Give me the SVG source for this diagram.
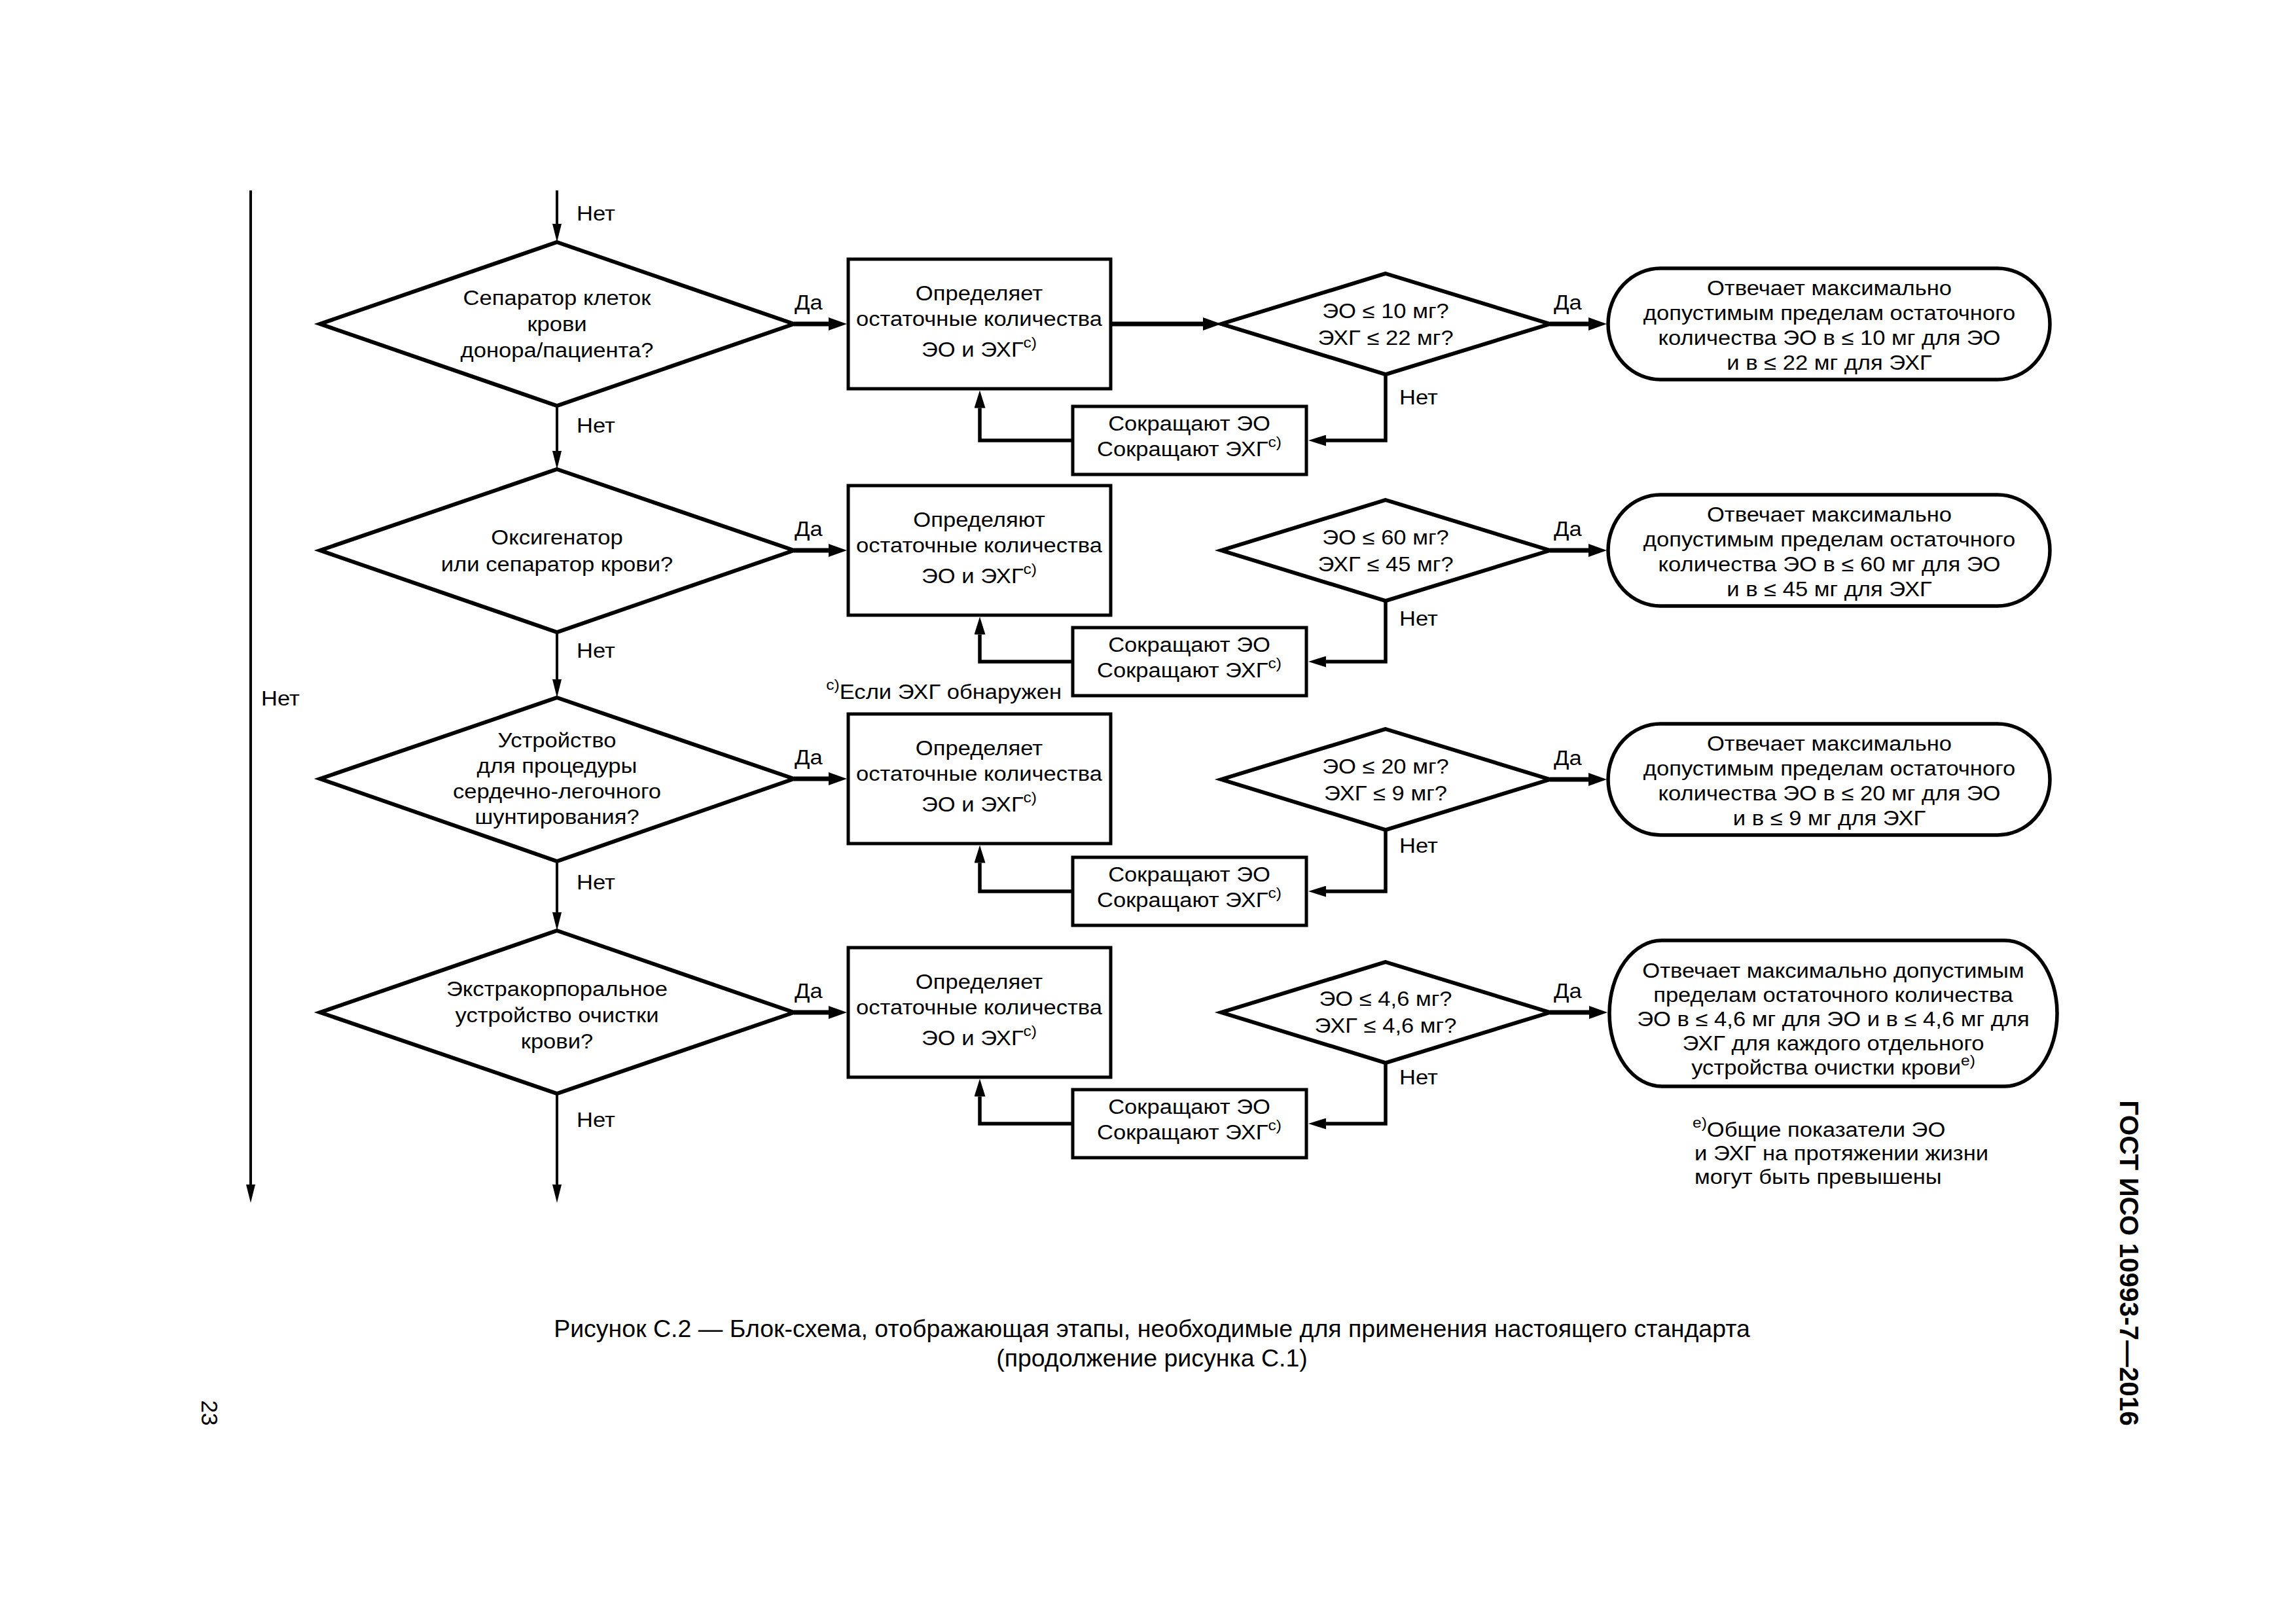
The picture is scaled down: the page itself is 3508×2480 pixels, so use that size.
<svg xmlns="http://www.w3.org/2000/svg" width="3508" height="2480" viewBox="0 0 3508 2480">
<style>
.t{font-family:"Liberation Sans",Arial,sans-serif;font-size:31px;fill:#000}
.c{text-anchor:middle}
.e{text-anchor:end}
.sup{font-size:22px}
.cap{font-family:"Liberation Sans",Arial,sans-serif;font-size:37.5px;fill:#000;text-anchor:middle}
.dia{fill:#fff;stroke:#000;stroke-width:6;stroke-linejoin:miter}
.box{fill:#fff;stroke:#000;stroke-width:5}
.term{fill:#fff;stroke:#000;stroke-width:5.5}
.ln{fill:none;stroke:#000}
.thin{stroke-width:4}
.thick{stroke-width:7}
.mid{stroke-width:5.5}
</style>
<defs>
<marker id="aThin" markerUnits="userSpaceOnUse" markerWidth="28" markerHeight="14" refX="0" refY="7" orient="auto"><path d="M0,0 L28,7 L0,14 z" fill="#000"/></marker>
<marker id="aThick" markerUnits="userSpaceOnUse" markerWidth="28" markerHeight="20" refX="0" refY="10" orient="auto"><path d="M0,0 L28,10 L0,20 z" fill="#000"/></marker>
<marker id="aMid" markerUnits="userSpaceOnUse" markerWidth="27" markerHeight="17" refX="0" refY="8.5" orient="auto"><path d="M0,0 L27,8.5 L0,17 z" fill="#000"/></marker>
</defs>
<rect width="3508" height="2480" fill="#fff"/>

<g id="connectors">
<path class="ln thin" d="M383,291 V1810" marker-end="url(#aThin)"/>
<path class="ln thin" d="M851,291 V342" marker-end="url(#aThin)"/>
<path class="ln thin" d="M851,620 V689" marker-end="url(#aThin)"/>
<path class="ln thin" d="M851,966 V1038" marker-end="url(#aThin)"/>
<path class="ln thin" d="M851,1316 V1394" marker-end="url(#aThin)"/>
<path class="ln thin" d="M851,1671 V1810" marker-end="url(#aThin)"/>

<path class="ln thick" d="M1213,495 H1266" marker-end="url(#aThick)"/>
<path class="ln thick" d="M1213,841 H1266" marker-end="url(#aThick)"/>
<path class="ln thick" d="M1213,1190 H1266" marker-end="url(#aThick)"/>
<path class="ln thick" d="M1213,1547 H1266" marker-end="url(#aThick)"/>

<path class="ln thick" d="M1699,495 H1838" marker-end="url(#aThick)"/>

<path class="ln thick" d="M2368,495 H2427" marker-end="url(#aThick)"/>
<path class="ln thick" d="M2368,841 H2427" marker-end="url(#aThick)"/>
<path class="ln thick" d="M2368,1191 H2427" marker-end="url(#aThick)"/>
<path class="ln thick" d="M2368,1547 H2428" marker-end="url(#aThick)"/>

<path class="ln mid" d="M2117,572 V673 H2026" marker-end="url(#aMid)"/>
<path class="ln mid" d="M2117,918 V1011 H2026" marker-end="url(#aMid)"/>
<path class="ln mid" d="M2117,1268 V1362 H2026" marker-end="url(#aMid)"/>
<path class="ln mid" d="M2117,1624 V1717 H2026" marker-end="url(#aMid)"/>

<path class="ln mid" d="M1639,673 H1497 V623.5" marker-end="url(#aMid)"/>
<path class="ln mid" d="M1639,1011 H1497 V969.5" marker-end="url(#aMid)"/>
<path class="ln mid" d="M1639,1362 H1497 V1318.5" marker-end="url(#aMid)"/>
<path class="ln mid" d="M1639,1717 H1497 V1675.5" marker-end="url(#aMid)"/>
</g>

<g id="labels">
<text class="t" transform="translate(881,0) scale(1.115,1)"><tspan x="0" y="337">Нет</tspan></text>
<text class="t" transform="translate(881,0) scale(1.115,1)"><tspan x="0" y="661">Нет</tspan></text>
<text class="t" transform="translate(881,0) scale(1.115,1)"><tspan x="0" y="1005">Нет</tspan></text>
<text class="t" transform="translate(881,0) scale(1.115,1)"><tspan x="0" y="1359">Нет</tspan></text>
<text class="t" transform="translate(881,0) scale(1.115,1)"><tspan x="0" y="1722">Нет</tspan></text>
<text class="t" transform="translate(399,0) scale(1.115,1)"><tspan x="0" y="1078">Нет</tspan></text>
<text class="t" transform="translate(1214,0) scale(1.115,1)"><tspan x="0" y="473">Да</tspan></text>
<text class="t" transform="translate(1214,0) scale(1.115,1)"><tspan x="0" y="819">Да</tspan></text>
<text class="t" transform="translate(1214,0) scale(1.115,1)"><tspan x="0" y="1168">Да</tspan></text>
<text class="t" transform="translate(1214,0) scale(1.115,1)"><tspan x="0" y="1525">Да</tspan></text>
<text class="t" transform="translate(2374,0) scale(1.115,1)"><tspan x="0" y="473">Да</tspan></text>
<text class="t" transform="translate(2374,0) scale(1.115,1)"><tspan x="0" y="819">Да</tspan></text>
<text class="t" transform="translate(2374,0) scale(1.115,1)"><tspan x="0" y="1169">Да</tspan></text>
<text class="t" transform="translate(2374,0) scale(1.115,1)"><tspan x="0" y="1525">Да</tspan></text>
<text class="t" transform="translate(2138,0) scale(1.115,1)"><tspan x="0" y="618">Нет</tspan></text>
<text class="t" transform="translate(2138,0) scale(1.115,1)"><tspan x="0" y="956">Нет</tspan></text>
<text class="t" transform="translate(2138,0) scale(1.115,1)"><tspan x="0" y="1303">Нет</tspan></text>
<text class="t" transform="translate(2138,0) scale(1.115,1)"><tspan x="0" y="1657">Нет</tspan></text>
</g>

<g id="d1"><polygon class="dia" points="851,370 1213,495 851,620 489,495"/>
<text class="t c" transform="translate(851,0) scale(1.115,1)"><tspan x="0" y="466">Сепаратор клеток</tspan><tspan x="0" y="506">крови</tspan><tspan x="0" y="546">донора/пациента?</tspan></text></g>
<g id="d2"><polygon class="dia" points="851,717 1213,841 851,966 489,841"/>
<text class="t c" transform="translate(851,0) scale(1.115,1)"><tspan x="0" y="832">Оксигенатор</tspan><tspan x="0" y="873">или сепаратор крови?</tspan></text></g>
<g id="d3"><polygon class="dia" points="851,1066 1213,1190 851,1316 489,1190"/>
<text class="t c" transform="translate(851,0) scale(1.115,1)"><tspan x="0" y="1142">Устройство</tspan><tspan x="0" y="1181">для процедуры</tspan><tspan x="0" y="1220">сердечно-легочного</tspan><tspan x="0" y="1259">шунтирования?</tspan></text></g>
<g id="d4"><polygon class="dia" points="851,1422 1213,1547 851,1671 489,1547"/>
<text class="t c" transform="translate(851,0) scale(1.115,1)"><tspan x="0" y="1522">Экстракорпоральное</tspan><tspan x="0" y="1562">устройство очистки</tspan><tspan x="0" y="1602">крови?</tspan></text></g>

<g id="b1"><rect class="box" x="1296" y="396" width="401" height="198"/>
<text class="t c" transform="translate(1496,0) scale(1.115,1)"><tspan x="0" y="459">Определяет</tspan><tspan x="0" y="498">остаточные количества</tspan><tspan x="0" y="545">ЭО и ЭХГ</tspan><tspan class="sup" dy="-14">c)</tspan></text></g>
<g id="b2"><rect class="box" x="1296" y="742" width="401" height="198"/>
<text class="t c" transform="translate(1496,0) scale(1.115,1)"><tspan x="0" y="805">Определяют</tspan><tspan x="0" y="844">остаточные количества</tspan><tspan x="0" y="891">ЭО и ЭХГ</tspan><tspan class="sup" dy="-14">c)</tspan></text></g>
<g id="b3"><rect class="box" x="1296" y="1091" width="401" height="198"/>
<text class="t c" transform="translate(1496,0) scale(1.115,1)"><tspan x="0" y="1154">Определяет</tspan><tspan x="0" y="1193">остаточные количества</tspan><tspan x="0" y="1240">ЭО и ЭХГ</tspan><tspan class="sup" dy="-14">c)</tspan></text></g>
<g id="b4"><rect class="box" x="1296" y="1448" width="401" height="198"/>
<text class="t c" transform="translate(1496,0) scale(1.115,1)"><tspan x="0" y="1511">Определяет</tspan><tspan x="0" y="1550">остаточные количества</tspan><tspan x="0" y="1597">ЭО и ЭХГ</tspan><tspan class="sup" dy="-14">c)</tspan></text></g>

<g id="r1"><rect class="box" x="1639" y="621" width="357" height="104"/>
<text class="t c" transform="translate(1817,0) scale(1.115,1)"><tspan x="0" y="658">Сокращают ЭО</tspan><tspan x="0" y="697">Сокращают ЭХГ</tspan><tspan class="sup" dy="-14">c)</tspan></text></g>
<g id="r2"><rect class="box" x="1639" y="959" width="357" height="104"/>
<text class="t c" transform="translate(1817,0) scale(1.115,1)"><tspan x="0" y="996">Сокращают ЭО</tspan><tspan x="0" y="1035">Сокращают ЭХГ</tspan><tspan class="sup" dy="-14">c)</tspan></text></g>
<g id="r3"><rect class="box" x="1639" y="1310" width="357" height="104"/>
<text class="t c" transform="translate(1817,0) scale(1.115,1)"><tspan x="0" y="1347">Сокращают ЭО</tspan><tspan x="0" y="1386">Сокращают ЭХГ</tspan><tspan class="sup" dy="-14">c)</tspan></text></g>
<g id="r4"><rect class="box" x="1639" y="1665" width="357" height="104"/>
<text class="t c" transform="translate(1817,0) scale(1.115,1)"><tspan x="0" y="1702">Сокращают ЭО</tspan><tspan x="0" y="1741">Сокращают ЭХГ</tspan><tspan class="sup" dy="-14">c)</tspan></text></g>

<g id="e1"><polygon class="dia" points="2117,418 2368,495 2117,572 1866,495"/>
<text class="t c" transform="translate(2117,0) scale(1.115,1)"><tspan x="0" y="486">ЭО ≤ 10 мг?</tspan><tspan x="0" y="527">ЭХГ ≤ 22 мг?</tspan></text></g>
<g id="e2"><polygon class="dia" points="2117,764 2368,841 2117,918 1866,841"/>
<text class="t c" transform="translate(2117,0) scale(1.115,1)"><tspan x="0" y="832">ЭО ≤ 60 мг?</tspan><tspan x="0" y="873">ЭХГ ≤ 45 мг?</tspan></text></g>
<g id="e3"><polygon class="dia" points="2117,1114 2368,1191 2117,1268 1866,1191"/>
<text class="t c" transform="translate(2117,0) scale(1.115,1)"><tspan x="0" y="1182">ЭО ≤ 20 мг?</tspan><tspan x="0" y="1223">ЭХГ ≤ 9 мг?</tspan></text></g>
<g id="e4"><polygon class="dia" points="2117,1470 2368,1547 2117,1624 1866,1547"/>
<text class="t c" transform="translate(2117,0) scale(1.115,1)"><tspan x="0" y="1537">ЭО ≤ 4,6 мг?</tspan><tspan x="0" y="1578">ЭХГ ≤ 4,6 мг?</tspan></text></g>

<g id="t1"><rect class="term" x="2457" y="410" width="675" height="170" rx="80" ry="85"/>
<text class="t c" transform="translate(2795,0) scale(1.115,1)"><tspan x="0" y="451">Отвечает максимально</tspan><tspan x="0" y="489">допустимым пределам остаточного</tspan><tspan x="0" y="527">количества ЭО в ≤ 10 мг для ЭО</tspan><tspan x="0" y="565">и в ≤ 22 мг для ЭХГ</tspan></text></g>
<g id="t2"><rect class="term" x="2457" y="756" width="675" height="170" rx="80" ry="85"/>
<text class="t c" transform="translate(2795,0) scale(1.115,1)"><tspan x="0" y="797">Отвечает максимально</tspan><tspan x="0" y="835">допустимым пределам остаточного</tspan><tspan x="0" y="873">количества ЭО в ≤ 60 мг для ЭО</tspan><tspan x="0" y="911">и в ≤ 45 мг для ЭХГ</tspan></text></g>
<g id="t3"><rect class="term" x="2457" y="1106" width="675" height="170" rx="80" ry="85"/>
<text class="t c" transform="translate(2795,0) scale(1.115,1)"><tspan x="0" y="1147">Отвечает максимально</tspan><tspan x="0" y="1185">допустимым пределам остаточного</tspan><tspan x="0" y="1223">количества ЭО в ≤ 20 мг для ЭО</tspan><tspan x="0" y="1261">и в ≤ 9 мг для ЭХГ</tspan></text></g>
<g id="t4"><rect class="term" x="2459" y="1437" width="684" height="223" rx="80" ry="111"/>
<text class="t c" transform="translate(2801,0) scale(1.115,1)"><tspan x="0" y="1494">Отвечает максимально допустимым</tspan><tspan x="0" y="1531">пределам остаточного количества</tspan><tspan x="0" y="1568">ЭО в ≤ 4,6 мг для ЭО и в ≤ 4,6 мг для</tspan><tspan x="0" y="1605">ЭХГ для каждого отдельного</tspan><tspan x="0" y="1642">устройства очистки крови</tspan><tspan class="sup" dy="-14">e)</tspan></text></g>

<g id="notes">
<text class="t e" transform="translate(1622,0) scale(1.115,1)" y="1068"><tspan x="0" class="sup" dy="-14">c)</tspan><tspan dy="14">Если ЭХГ обнаружен</tspan></text>
<text class="t" transform="translate(2586,0) scale(1.115,1)"><tspan x="0" y="1723" class="sup">e)</tspan><tspan dy="14">Общие показатели ЭО</tspan></text>
<text class="t" transform="translate(2589,0) scale(1.115,1)"><tspan x="0" y="1773">и ЭХГ на протяжении жизни</tspan><tspan x="0" y="1809">могут быть превышены</tspan></text>
</g>

<g id="caption">
<text class="cap"><tspan x="1760" y="2043">Рисунок С.2 — Блок-схема, отображающая этапы, необходимые для применения настоящего стандарта</tspan><tspan x="1760" y="2088">(продолжение рисунка С.1)</tspan></text>
</g>
<g id="page">
<text font-family="Liberation Sans, Arial, sans-serif" font-weight="bold" font-size="40.5" text-anchor="middle" transform="translate(3239,1930) rotate(90)">ГОСТ ИСО 10993-7—2016</text>
<text font-family="Liberation Sans, Arial, sans-serif" font-size="35" text-anchor="middle" transform="translate(308,2159) rotate(90)">23</text>
</g>
</svg>
